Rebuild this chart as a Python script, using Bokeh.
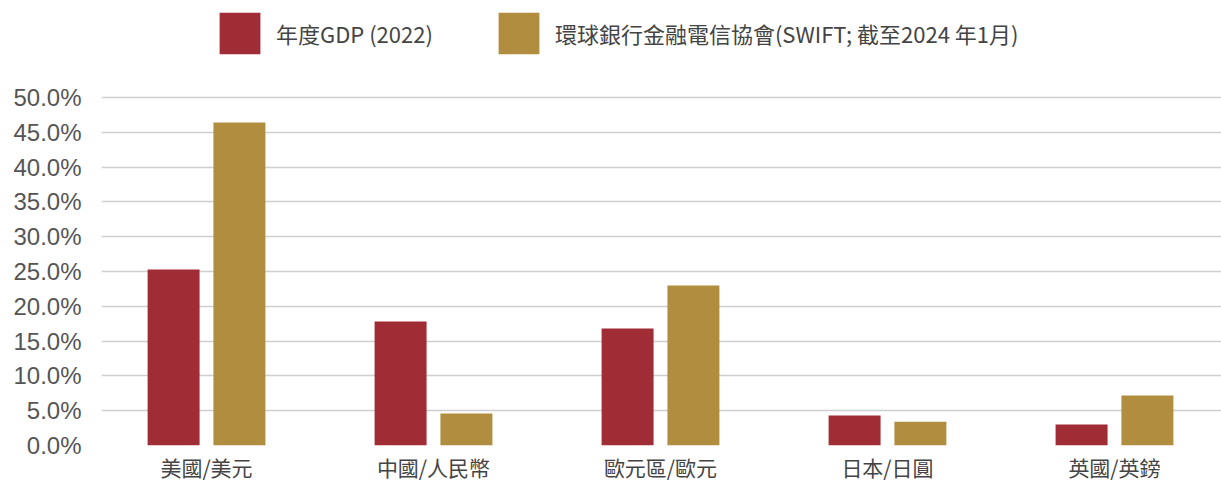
from bokeh.plotting import figure
from bokeh.models import (ColumnDataSource, Range1d, FixedTicker, PrintfTickFormatter,
                          Legend, LegendItem)
from bokeh.transform import dodge
from bokeh.embed import file_html
from bokeh.resources import INLINE

categories = ["美國/美元", "中國/人民幣", "歐元區/歐元", "日本/日圓", "英國/英鎊"]
gdp_2022 = [25.3, 17.8, 16.8, 4.3, 3.0]
swift_2024 = [46.4, 4.6, 23.0, 3.4, 7.2]
series_names = ["年度GDP (2022)", "環球銀行金融電信協會(SWIFT; 截至2024 年1月)"]
y_ticks = [0, 5, 10, 15, 20, 25, 30, 35, 40, 45, 50]

RED = "#A02D35"
GOLD = "#B08D3F"
NUM_FONT = "Liberation Sans"
CJK_FONT = "Noto Sans CJK TC"

idx = list(range(len(categories)))
src = ColumnDataSource(data=dict(idx=idx, gdp=gdp_2022, swift=swift_2024, cat=categories))

p = figure(width=1221, height=484, output_backend="svg", toolbar_location=None,
           x_range=Range1d(-0.4626, 4.4714), y_range=Range1d(0, 63.94),
           min_border_left=101, min_border_right=0, min_border_top=0, min_border_bottom=0)
p.outline_line_color = None
p.background_fill_color = "white"
p.border_fill_color = "white"

r1 = p.vbar(x=dodge("idx", -0.145, range=p.x_range), top="gdp", width=0.229, source=src,
            fill_color=RED, line_color=None)
r2 = p.vbar(x=dodge("idx", 0.145, range=p.x_range), top="swift", width=0.229, source=src,
            fill_color=GOLD, line_color=None)

# axes
p.xaxis.ticker = FixedTicker(ticks=idx)
p.xaxis.major_label_overrides = {i: c for i, c in zip(idx, categories)}
p.xaxis.axis_line_color = None
p.xaxis.major_tick_line_color = None
p.xaxis.minor_tick_line_color = None
p.xaxis.major_label_text_font = CJK_FONT
p.xaxis.major_label_text_font_size = "21px"
p.xaxis.major_label_text_color = "#444444"
p.xaxis.major_label_text_line_height = 1.0
p.xaxis.major_label_standoff = 0

p.yaxis.ticker = FixedTicker(ticks=y_ticks)
p.yaxis.formatter = PrintfTickFormatter(format="%.1f%%")
p.yaxis.axis_line_color = None
p.yaxis.major_tick_line_color = None
p.yaxis.minor_tick_line_color = None
p.yaxis.major_label_text_font = NUM_FONT
p.yaxis.major_label_text_font_size = "24px"
p.yaxis.major_label_text_color = "#555555"
p.yaxis.major_label_standoff = 14

p.xgrid.grid_line_color = None
p.ygrid.ticker = FixedTicker(ticks=y_ticks)
p.ygrid.grid_line_color = "#cfcfcf"
p.ygrid.grid_line_width = 1.5

legend = Legend(items=[LegendItem(label=series_names[0], renderers=[r1]),
                       LegendItem(label=series_names[1], renderers=[r2])],
                location=(113, 386), orientation="horizontal",
                glyph_width=51, glyph_height=52, label_standoff=11, spacing=60,
                padding=0, margin=0, border_line_color=None, background_fill_alpha=0,
                label_text_font=CJK_FONT, label_text_font_size="22px",
                label_text_color="#444444", label_height=52)
p.add_layout(legend, "center")

open("out.html", "w").write(file_html(p, INLINE))
